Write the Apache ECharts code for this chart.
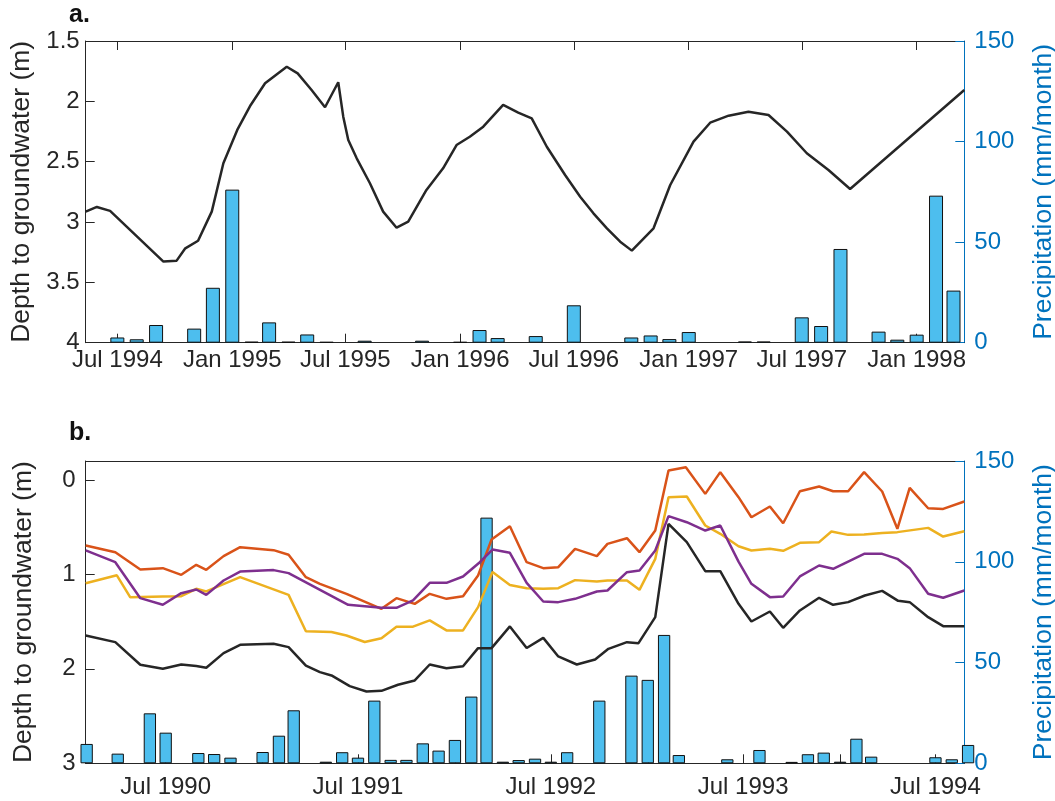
<!DOCTYPE html>
<html><head><meta charset="utf-8">
<script src="https://cdn.jsdelivr.net/npm/echarts@6/dist/echarts.min.js"></script>
<style>html,body{margin:0;padding:0;background:#fff}#c{width:1055px;height:801px}</style>
</head><body><div id="c"></div>
<script>
// ---------- DATA ----------
// Panel a: x-axis ticks / labels
const aTickLabels = ['Jul 1994','Jan 1995','Jul 1995','Jan 1996','Jul 1996','Jan 1997','Jul 1997','Jan 1998'];
// Panel b: tick marks every 6 months, labels only in July
const bTickMarks = ['Jul 1990','Jan 1991','Jul 1991','Jan 1992','Jul 1992','Jan 1993','Jul 1993','Jan 1994','Jul 1994'];
const bTickLabels = ['Jul 1990','Jul 1991','Jul 1992','Jul 1993','Jul 1994'];
const aRange = [1994.357, 1998.209];   // decimal years shown in panel a
const bRange = [1990.080, 1994.646];   // decimal years shown in panel b

// Panel a: depth to groundwater (m) [decimal year, depth]
const aDepth = [[1994.357,2.914],[1994.406,2.875],[1994.464,2.908],[1994.698,3.328],[1994.756,3.320],[1994.794,3.218],[1994.850,3.155],[1994.910,2.914],[1994.961,2.513],[1995.022,2.237],[1995.081,2.030],[1995.144,1.850],[1995.239,1.713],[1995.287,1.768],[1995.348,1.906],[1995.407,2.049],[1995.465,1.842],[1995.487,2.127],[1995.509,2.320],[1995.546,2.472],[1995.604,2.679],[1995.662,2.914],[1995.721,3.047],[1995.772,2.997],[1995.852,2.734],[1995.925,2.555],[1995.984,2.362],[1996.042,2.293],[1996.101,2.210],[1996.188,2.030],[1996.254,2.094],[1996.313,2.141],[1996.379,2.376],[1996.459,2.610],[1996.525,2.790],[1996.583,2.928],[1996.642,3.052],[1996.700,3.163],[1996.751,3.237],[1996.846,3.052],[1996.919,2.693],[1997.021,2.334],[1997.094,2.177],[1997.175,2.119],[1997.262,2.086],[1997.350,2.113],[1997.431,2.251],[1997.518,2.430],[1997.613,2.569],[1997.708,2.726],[1998.209,1.906]];
// Panel a: monthly precipitation (mm/month)
const aPrecip = [['1994-07',2.6],['1994-08',1.7],['1994-09',8.8],['1994-11',7.0],['1994-12',27.3],['1995-01',76.1],['1995-02',0.5],['1995-03',10.1],['1995-04',0.5],['1995-05',4.1],['1995-06',0.4],['1995-08',1.0],['1995-11',1.0],['1996-01',0.4],['1996-02',6.3],['1996-03',2.3],['1996-05',3.3],['1996-07',18.6],['1996-10',2.6],['1996-11',3.6],['1996-12',1.8],['1997-01',5.3],['1997-04',0.6],['1997-05',0.6],['1997-07',12.6],['1997-08',8.3],['1997-09',46.6],['1997-11',5.5],['1997-12',1.5],['1998-01',4.0],['1998-02',73.1],['1998-03',25.9]];

// Panel b: four wells, depth to groundwater (m)
const bBlack = [[1990.080,1.647],[1990.234,1.717],[1990.364,1.957],[1990.481,2.000],[1990.577,1.954],[1990.655,1.971],[1990.707,1.989],[1990.797,1.834],[1990.883,1.746],[1991.057,1.735],[1991.135,1.770],[1991.225,1.967],[1991.298,2.035],[1991.358,2.070],[1991.453,2.183],[1991.540,2.240],[1991.618,2.233],[1991.704,2.169],[1991.791,2.123],[1991.869,1.954],[1991.956,1.993],[1992.042,1.972],[1992.120,1.781],[1992.190,1.781],[1992.285,1.551],[1992.372,1.779],[1992.458,1.672],[1992.536,1.869],[1992.632,1.954],[1992.727,1.901],[1992.796,1.788],[1992.892,1.718],[1992.952,1.728],[1993.039,1.453],[1993.108,0.465],[1993.203,0.659],[1993.299,0.966],[1993.377,0.966],[1993.472,1.312],[1993.539,1.499],[1993.635,1.393],[1993.704,1.566],[1993.791,1.382],[1993.891,1.248],[1993.964,1.322],[1994.042,1.294],[1994.129,1.224],[1994.219,1.175],[1994.302,1.280],[1994.362,1.294],[1994.458,1.453],[1994.536,1.548],[1994.646,1.548]];
const bOrange = [[1990.080,0.695],[1990.234,0.765],[1990.364,0.948],[1990.481,0.934],[1990.577,1.005],[1990.655,0.899],[1990.707,0.952],[1990.797,0.807],[1990.883,0.712],[1991.057,0.744],[1991.135,0.793],[1991.225,1.030],[1991.298,1.100],[1991.436,1.206],[1991.618,1.365],[1991.696,1.252],[1991.791,1.312],[1991.869,1.206],[1991.956,1.259],[1992.042,1.231],[1992.120,1.012],[1992.190,0.631],[1992.285,0.490],[1992.372,0.871],[1992.458,0.934],[1992.536,0.924],[1992.623,0.730],[1992.736,0.807],[1992.791,0.677],[1992.892,0.617],[1992.957,0.765],[1993.039,0.536],[1993.108,-0.099],[1993.198,-0.134],[1993.299,0.148],[1993.377,-0.082],[1993.472,0.183],[1993.539,0.395],[1993.635,0.282],[1993.704,0.459],[1993.791,0.120],[1993.891,0.070],[1993.964,0.120],[1994.042,0.120],[1994.125,-0.082],[1994.219,0.123],[1994.298,0.518],[1994.362,0.084],[1994.458,0.300],[1994.536,0.307],[1994.646,0.229]];
const bYellow = [[1990.080,1.094],[1990.242,1.010],[1990.312,1.243],[1990.481,1.234],[1990.577,1.231],[1990.655,1.153],[1990.707,1.181],[1990.883,1.030],[1991.135,1.217],[1991.225,1.603],[1991.358,1.610],[1991.436,1.647],[1991.531,1.716],[1991.618,1.677],[1991.696,1.554],[1991.782,1.554],[1991.869,1.487],[1991.956,1.593],[1992.042,1.593],[1992.120,1.347],[1992.195,0.975],[1992.285,1.112],[1992.372,1.146],[1992.458,1.153],[1992.536,1.146],[1992.623,1.061],[1992.736,1.075],[1992.791,1.064],[1992.892,1.064],[1992.957,1.164],[1993.039,0.836],[1993.108,0.183],[1993.203,0.176],[1993.299,0.483],[1993.377,0.571],[1993.472,0.703],[1993.539,0.747],[1993.635,0.730],[1993.704,0.751],[1993.791,0.666],[1993.891,0.659],[1993.955,0.546],[1994.042,0.582],[1994.125,0.578],[1994.219,0.561],[1994.298,0.553],[1994.458,0.508],[1994.536,0.600],[1994.646,0.543]];
const bPurple = [[1990.080,0.747],[1990.234,0.871],[1990.364,1.252],[1990.481,1.322],[1990.577,1.199],[1990.655,1.160],[1990.707,1.217],[1990.797,1.065],[1990.883,0.970],[1991.057,0.955],[1991.135,0.987],[1991.445,1.322],[1991.618,1.354],[1991.696,1.354],[1991.782,1.276],[1991.869,1.090],[1991.956,1.090],[1992.042,1.023],[1992.129,0.871],[1992.195,0.737],[1992.285,0.772],[1992.372,1.090],[1992.458,1.287],[1992.536,1.294],[1992.623,1.259],[1992.736,1.181],[1992.791,1.171],[1992.892,0.977],[1992.957,0.959],[1993.039,0.747],[1993.108,0.384],[1993.203,0.448],[1993.299,0.536],[1993.377,0.483],[1993.472,0.865],[1993.539,1.100],[1993.635,1.241],[1993.704,1.234],[1993.791,1.022],[1993.891,0.906],[1993.964,0.941],[1994.042,0.864],[1994.125,0.783],[1994.219,0.783],[1994.298,0.836],[1994.362,0.934],[1994.458,1.206],[1994.536,1.248],[1994.646,1.171]];
// Panel b: monthly precipitation (mm/month)
const bPrecip = [['1990-02',9.6],['1990-04',4.8],['1990-06',24.8],['1990-07',15.2],['1990-09',5.1],['1990-10',4.6],['1990-11',2.8],['1991-01',5.6],['1991-02',13.7],['1991-03',26.3],['1991-05',0.8],['1991-06',5.5],['1991-07',2.8],['1991-08',31.1],['1991-09',1.7],['1991-10',1.7],['1991-11',9.9],['1991-12',6.3],['1992-01',11.6],['1992-02',33.1],['1992-03',121.9],['1992-04',0.8],['1992-05',1.6],['1992-06',2.3],['1992-07',0.8],['1992-08',5.5],['1992-10',31.1],['1992-12',43.5],['1993-01',41.4],['1993-02',63.7],['1993-03',4.1],['1993-06',2.0],['1993-08',6.6],['1993-10',0.7],['1993-11',4.5],['1993-12',5.3],['1994-01',0.8],['1994-02',12.2],['1994-03',3.3],['1994-07',3.0],['1994-08',2.0],['1994-09',9.1]];

// ---------- HELPERS ----------
const MONTHS = ['Jan','Feb','Mar','Apr','May','Jun','Jul','Aug','Sep','Oct','Nov','Dec'];
function dec(y){const Y=Math.floor(y);const a=Date.UTC(Y,0,1),b=Date.UTC(Y+1,0,1);return a+(y-Y)*(b-a);}
function ym(s){const p=s.split('-');return Date.UTC(+p[0],+p[1]-1,1);}
function lab(s){return Date.UTC(+s.slice(4),MONTHS.indexOf(s.slice(0,3)),1);}
const labelMap = {};
aTickLabels.concat(bTickMarks).forEach(s=>{labelMap[lab(s)]=s;});
function fmt(v){return labelMap[v]!==undefined?labelMap[v]:'';}

const FONT = 'Liberation Sans, Arial, Helvetica, sans-serif';
const INK = '#262626';
const BLUE = '#0072BD';
const BARFILL = '#4DBEEE';
const TICKFS = 24;

function xBottom(grid, range, ticks, labels, margin){
  return {type:'value', gridIndex:grid, position:'bottom', min:dec(range[0]), max:dec(range[1]),
    axisLine:{show:true, onZero:false, lineStyle:{color:INK, width:1}},
    axisTick:{show:true, inside:true, length:9, customValues:ticks.map(lab), lineStyle:{color:INK, width:1}},
    axisLabel:{show:true, customValues:labels.map(lab), formatter:fmt, fontSize:TICKFS, fontFamily:FONT, color:INK, margin:margin},
    splitLine:{show:false}};
}
function xTop(grid, range, ticks){
  return {type:'value', gridIndex:grid, position:'top', min:dec(range[0]), max:dec(range[1]),
    axisLine:{show:true, onZero:false, lineStyle:{color:INK, width:1}},
    axisTick:{show:!!ticks, inside:true, length:9, customValues:ticks?ticks.map(lab):[], lineStyle:{color:INK, width:1}},
    axisLabel:{show:false}, splitLine:{show:false}};
}
function yRight(grid){
  return {type:'value', gridIndex:grid, position:'right', min:0, max:150, interval:50,
    axisLine:{show:true, onZero:false, lineStyle:{color:BLUE, width:1}},
    axisTick:{show:true, inside:true, length:9, lineStyle:{color:BLUE, width:1}},
    axisLabel:{fontSize:TICKFS, fontFamily:FONT, color:BLUE, margin:10},
    splitLine:{show:false},
    name:'Precipitation (mm/month)', nameLocation:'middle', nameRotate:90, nameGap:66,
    nameTextStyle:{fontSize:26.5, fontFamily:FONT, color:BLUE}};
}
const depthName = {name:'Depth to groundwater (m)', nameLocation:'middle', nameRotate:90,
  nameTextStyle:{fontSize:26.5, fontFamily:FONT, color:INK}};

const lineS = (data, xi, yi, color) => ({type:'line', xAxisIndex:xi, yAxisIndex:yi,
  data:data.map(p=>[dec(p[0]),p[1]]), showSymbol:false, z:5,
  lineStyle:{color:color, width:2.5}, itemStyle:{color:color}});
const barS = (data, xi, yi, w) => ({type:'bar', xAxisIndex:xi, yAxisIndex:yi, barWidth:w, z:2,
  data:data.map(p=>[ym(p[0]),p[1]]),
  itemStyle:{color:BARFILL, borderColor:'#111', borderWidth:1}});

const option = {
  animation:false,
  backgroundColor:'#fff',
  textStyle:{fontFamily:FONT},
  graphic:[
    {type:'text', left:69, top:3, style:{text:'a.', font:'bold 25px '+FONT, fill:'#111'}},
    {type:'text', left:69, top:421, style:{text:'b.', font:'bold 25px '+FONT, fill:'#111'}}
  ],
  grid:[
    {left:85.7, right:90.7, top:41, height:301.7, containLabel:false, outerBoundsMode:'none'},
    {left:85.7, right:90.7, top:461, height:302.3, containLabel:false, outerBoundsMode:'none'}
  ],
  xAxis:[
    xBottom(0, aRange, aTickLabels, aTickLabels, 6),
    xTop(0, aRange, aTickLabels),
    xBottom(1, bRange, bTickMarks, bTickLabels, 12),
    xTop(1, bRange, null)
  ],
  yAxis:[
    Object.assign({type:'value', gridIndex:0, position:'left', inverse:true, min:1.5, max:4, interval:0.5,
      axisLine:{show:true, onZero:false, lineStyle:{color:INK, width:1}},
      axisTick:{show:true, inside:true, length:9, lineStyle:{color:INK, width:1}},
      axisLabel:{fontSize:TICKFS, fontFamily:FONT, color:INK, margin:6},
      splitLine:{show:false}, nameGap:49}, depthName),
    yRight(0),
    Object.assign({type:'value', gridIndex:1, position:'left', inverse:true, min:-0.2, max:3,
      axisLine:{show:true, onZero:false, lineStyle:{color:INK, width:1}},
      axisTick:{show:true, inside:true, length:9, customValues:[0,1,2,3], lineStyle:{color:INK, width:1}},
      axisLabel:{customValues:[0,1,2,3], fontSize:TICKFS, fontFamily:FONT, color:INK, margin:10},
      splitLine:{show:false}, nameGap:49}, depthName),
    yRight(1)
  ],
  series:[
    barS(aPrecip, 0, 1, 14),
    lineS(aDepth, 0, 0, '#262626'),
    barS(bPrecip, 2, 3, 12.3),
    lineS(bBlack, 2, 2, '#262626'),
    lineS(bOrange, 2, 2, '#D95319'),
    lineS(bYellow, 2, 2, '#EDB120'),
    lineS(bPurple, 2, 2, '#7E2F8E')
  ]
};
const chart = echarts.init(document.getElementById('c'), null, {renderer:'canvas'});
chart.setOption(option);
</script>
</body></html>
